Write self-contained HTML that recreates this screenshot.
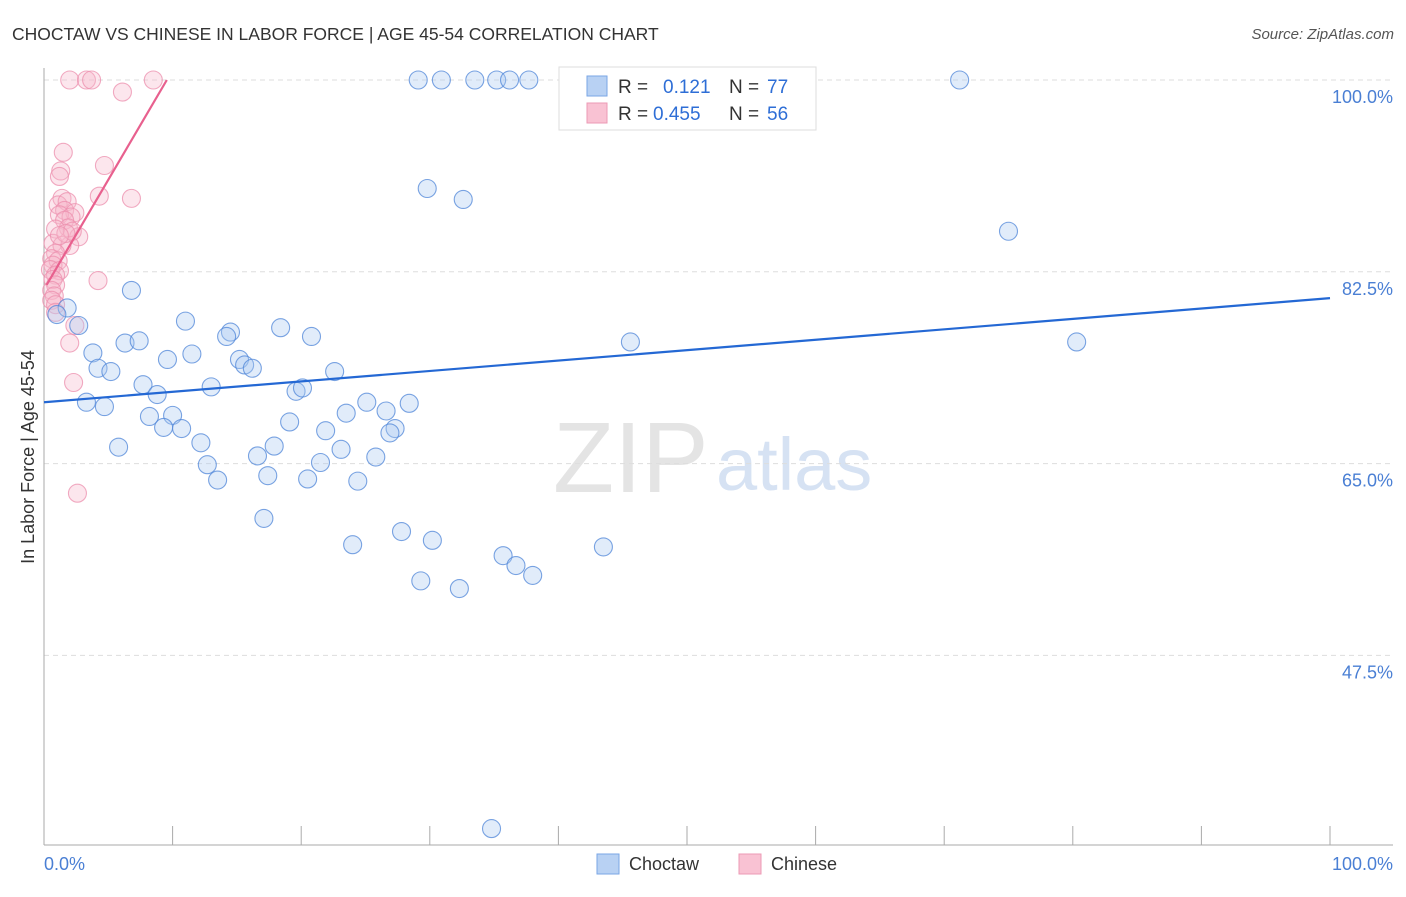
<!DOCTYPE html>
<html><head><meta charset="utf-8"><style>
body{margin:0;background:#fff;font-family:"Liberation Sans",sans-serif;}
svg text{font-family:"Liberation Sans",sans-serif;}
</style></head><body>
<svg id="chart" width="1406" height="892" viewBox="0 0 1406 892">
<text x="12" y="40" font-size="17.5" fill="#333">CHOCTAW VS CHINESE IN LABOR FORCE | AGE 45-54 CORRELATION CHART</text>
<text x="1394" y="39" font-size="15" fill="#555" font-style="italic" text-anchor="end">Source: ZipAtlas.com</text>
<text x="553" y="492" font-size="100" fill="#e4e4e4" font-family="Liberation Serif">ZIP</text>
<text x="716" y="490" font-size="74" fill="#d6e2f3">atlas</text>
<g id="grid"></g>
<g id="axes"></g>
<g id="marks"></g>
<text transform="translate(34,457) rotate(-90)" font-size="18" fill="#333" text-anchor="middle">In Labor Force | Age 45-54</text>
<text x="44" y="870" font-size="18" fill="#4a7fd4">0.0%</text>
<text x="1393" y="870" font-size="18" fill="#4a7fd4" text-anchor="end">100.0%</text>
<g>
<rect x="559" y="67" width="257" height="63" fill="#fff" stroke="#ddd"/>
<rect x="587" y="76" width="20" height="20" fill="#b8d1f3" stroke="#7aa6e6"/>
<rect x="587" y="103" width="20" height="20" fill="#f9c2d3" stroke="#ec9ab5"/>
<text x="618" y="93" font-size="19" fill="#333">R =</text>
<text x="663" y="93" font-size="19" fill="#2e6ed6">0.121</text>
<text x="729" y="93" font-size="19" fill="#333">N =</text>
<text x="767" y="93" font-size="19" fill="#2e6ed6">77</text>
<text x="618" y="120" font-size="19" fill="#333">R =</text>
<text x="653" y="120" font-size="19" fill="#2e6ed6">0.455</text>
<text x="729" y="120" font-size="19" fill="#333">N =</text>
<text x="767" y="120" font-size="19" fill="#2e6ed6">56</text>
</g>
<g>
<rect x="597" y="854" width="22" height="20" fill="#b8d1f3" stroke="#7aa6e6"/>
<text x="629" y="870" font-size="18" fill="#333">Choctaw</text>
<rect x="739" y="854" width="22" height="20" fill="#f9c2d3" stroke="#ec9ab5"/>
<text x="771" y="870" font-size="18" fill="#333">Chinese</text>
</g>
</svg>
<script>
const yTicks=[100,82.5,65,47.5];
const yTickLabels=["100.0%","82.5%","65.0%","47.5%"];
const xTicks=[0,10,20,30,40,50,60,70,80,90,100];
const blueX=[29.1,30.9,33.5,35.2,36.2,37.7,71.2,29.8,32.6,75.0,6.8,1.8,1.0,2.7,11.0,18.4,14.5,14.2,20.8,6.3,7.4,3.8,11.5,9.6,15.2,15.6,16.2,4.2,5.2,22.6,45.6,80.3,7.7,13.0,19.6,20.1,8.8,3.3,4.7,25.1,28.4,8.2,10.0,23.5,26.6,19.1,9.3,10.7,21.9,27.3,26.9,12.2,5.8,17.9,23.1,16.6,25.8,21.5,12.7,17.4,13.5,20.5,24.4,17.1,27.8,30.2,24.0,35.7,43.5,36.7,38.0,29.3,32.3,34.8];
const blueY=[100,100,100,100,100,100,100,90.1,89.1,86.2,80.8,79.2,78.6,77.6,78.0,77.4,77.0,76.6,76.6,76.0,76.2,75.1,75.0,74.5,74.5,74.0,73.7,73.7,73.4,73.4,76.1,76.1,72.2,72.0,71.6,71.9,71.3,70.6,70.2,70.6,70.5,69.3,69.4,69.6,69.8,68.8,68.3,68.2,68.0,68.2,67.8,66.9,66.5,66.6,66.3,65.7,65.6,65.1,64.9,63.9,63.5,63.6,63.4,60.0,58.8,58.0,57.6,56.6,57.4,55.7,54.8,54.3,53.6,31.7];
const pinkX=[2.0,3.3,3.7,8.5,6.1,1.5,4.7,1.3,1.2,4.3,6.8,1.4,1.1,1.8,1.6,2.4,1.2,2.1,1.6,1.9,0.9,2.7,0.7,2.0,1.4,0.9,0.6,1.1,0.7,0.5,1.2,0.9,4.2,0.7,0.9,0.6,0.8,0.6,0.9,0.9,2.4,2.0,2.3,2.6,2.2,1.7,1.2];
const pinkY=[100,100,100,100,98.9,93.4,92.2,91.7,91.2,89.4,89.2,89.2,88.6,88.9,88.1,87.9,87.7,87.5,87.2,86.5,86.4,85.7,85.1,84.9,84.9,84.2,83.7,83.5,83.1,82.7,82.6,82.2,81.7,81.8,81.3,80.8,80.3,79.9,79.5,78.8,77.6,76.0,72.4,62.3,86.2,86.0,85.8];
const blueTrend=[70.6,80.1];
const pinkTrend=[80.9,2.0];
const NS="http://www.w3.org/2000/svg";
const X=v=>44+v*12.86;
const Y=v=>80+(100-v)*10.96;
function mk(tag,attrs,parent){const e=document.createElementNS(NS,tag);for(const k in attrs)e.setAttribute(k,attrs[k]);parent.appendChild(e);return e;}
const grid=document.getElementById('grid'),axes=document.getElementById('axes'),marks=document.getElementById('marks');
yTicks.forEach((t,i)=>{
 const l=mk('line',{x1:44,x2:1393,y1:Y(t),y2:Y(t),stroke:'#ddd','stroke-dasharray':'5,4'},grid);
 
 
 const tx=mk('text',{x:1393,y:Y(t)+23,'font-size':18,fill:'#4a7fd4','text-anchor':'end'},grid);
 tx.textContent=yTickLabels[i];
 
 
});
const ya=mk('line',{x1:44,x2:44,y1:68,y2:845,stroke:'#aaa'},axes);


const xa=mk('line',{x1:44,x2:1393,y1:845,y2:845,stroke:'#aaa'},axes);


xTicks.forEach(t=>{
 const tk=mk('line',{x1:X(t),x2:X(t),y1:826,y2:845,stroke:'#aaa'},axes);
 
 
});
function pts(xs,ys,fill,stroke,name){
 xs.forEach((x,i)=>{
  const c=mk('circle',{cx:X(x),cy:Y(ys[i]),r:9,fill:fill,'fill-opacity':0.35,stroke:stroke,'stroke-opacity':0.75,'stroke-width':1.1},marks);
  
  
 });
}
pts(pinkX,pinkY,'#f7b6ca','#ec8fae','chinese-point');
pts(blueX,blueY,'#aac8f0','#4f86d8','choctaw-point');
const bt=mk('line',{x1:X(0),y1:Y(blueTrend[0]),x2:X(100),y2:Y(blueTrend[1]),stroke:'#2468d4','stroke-width':2.2},marks);


const xEnd=(100-pinkTrend[0])/pinkTrend[1];
const pt=mk('line',{x1:X(0.2),y1:Y(pinkTrend[0]+pinkTrend[1]*0.2),x2:X(xEnd),y2:Y(100),stroke:'#e8608e','stroke-width':2.2},marks);


</script>
</body></html>
